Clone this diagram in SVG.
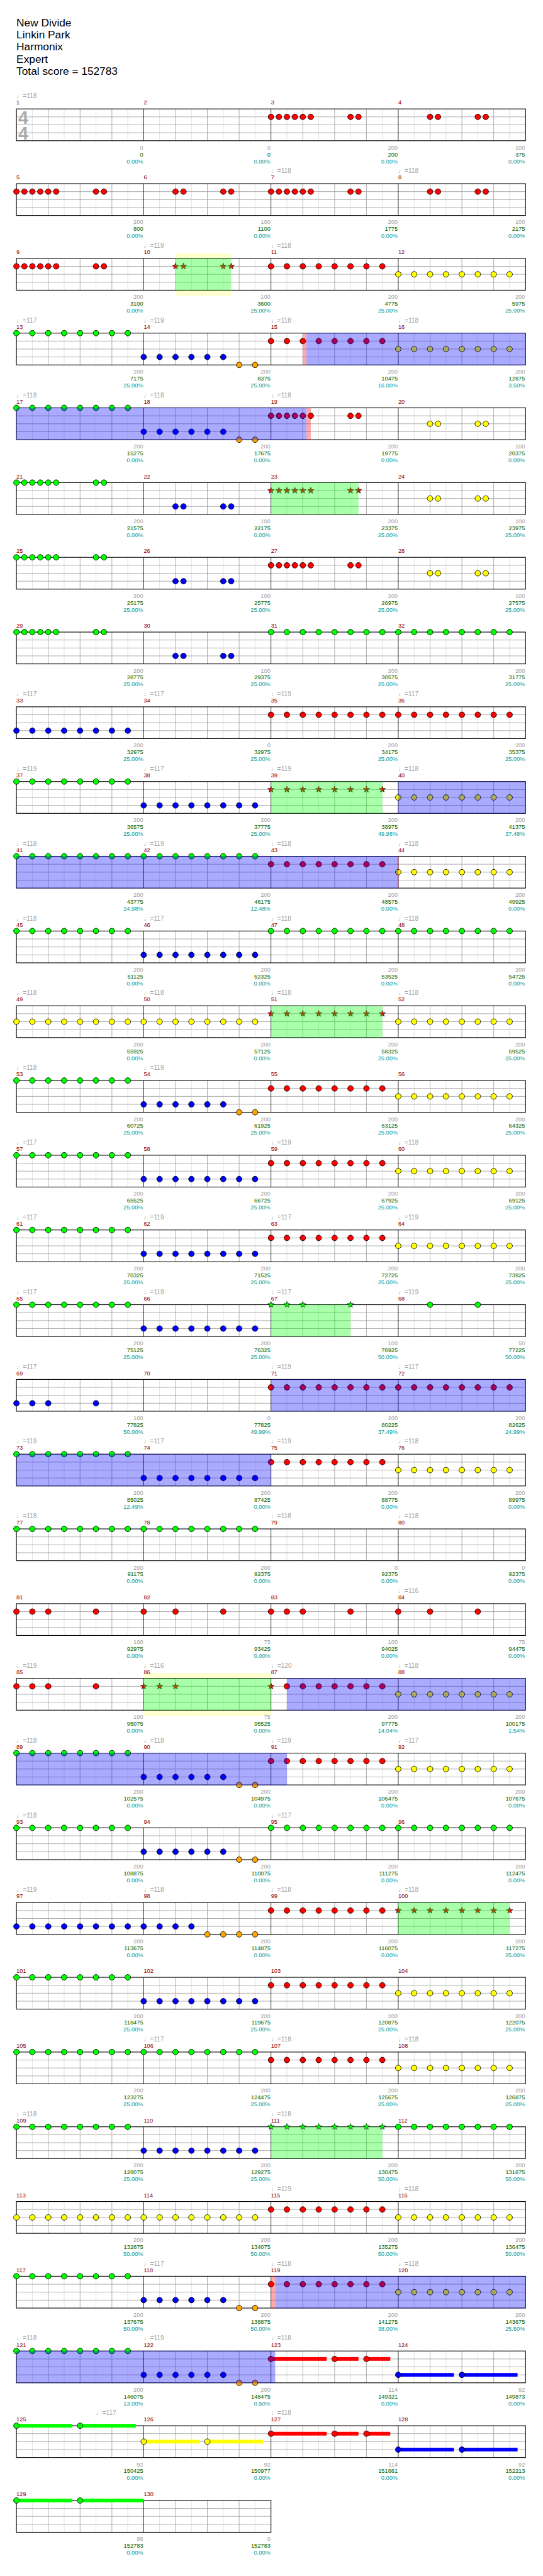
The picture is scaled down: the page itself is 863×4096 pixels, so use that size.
<svg xmlns="http://www.w3.org/2000/svg" width="863" height="4096" viewBox="0 0 863 4096">
<style>
.G{fill:#00ff00}.R{fill:#ff0000}.Y{fill:#ffff00}.B{fill:#0000ff}.O{fill:#ffa500}
.ov{fill:#0000ff;fill-opacity:.333}
.sp{fill:#00ff00;fill-opacity:.333}
.pk{fill:#ff0000;fill-opacity:.333}
.py{fill:#ffffd0}
.mn{font-family:"Liberation Sans",Arial,sans-serif;font-size:11px;fill:#8b0000}
.tp{font-family:"Liberation Sans","DejaVu Sans",sans-serif;font-size:12px;fill:#a0a0a0}
.sa,.sb,.sc{font-family:"Liberation Sans",Arial,sans-serif;font-size:11px;text-anchor:end}
.sa{fill:#a0a0a0}.sb{fill:#006400}.sc{fill:#00a0a0}
.ti{font-family:"Liberation Sans",Arial,sans-serif;font-size:20.5px;fill:#000}
.ts{font-family:"Liberation Sans",Arial,sans-serif;font-size:34px;font-weight:bold;fill:#aaa}
</style>
<defs>
<circle id="n" r="5.3" stroke="#000" stroke-width="1"/>
<path id="s" d="M0,-6.2L1.47,-2.02L5.9,-1.92L2.38,0.77L3.64,5.02L0,2.5L-3.64,5.02L-2.38,0.77L-5.9,-1.92L-1.47,-2.02Z" stroke="#000" stroke-width="0.8"/>
<g id="p2"><use href="#n"/><use href="#n" x="15"/></g>
<g id="q2"><use href="#n"/><use href="#n" x="30"/></g>
<g id="s6"><use href="#p2"/><use href="#p2" x="30"/><use href="#p2" x="60"/></g>
<g id="e6"><use href="#q2"/><use href="#q2" x="60"/><use href="#q2" x="120"/></g>
<g id="e8"><use href="#e6"/><use href="#q2" x="180"/></g>
<g id="A"><use href="#s6"/><use href="#p2" x="150"/></g>
<g id="Bp"><use href="#p2" x="60"/><use href="#p2" x="150"/></g>
<g id="sp2"><use href="#s"/><use href="#s" x="15"/></g>
<g id="sA"><use href="#sp2"/><use href="#sp2" x="30"/><use href="#sp2" x="60"/><use href="#sp2" x="150"/></g>
<g id="sq2"><use href="#s"/><use href="#s" x="30"/></g>
<g id="se8"><use href="#sq2"/><use href="#sq2" x="60"/><use href="#sq2" x="120"/><use href="#sq2" x="180"/></g>
<g id="su3"><rect y="-3.5" width="105" height="7"/><rect x="120" y="-3.5" width="45" height="7"/><rect x="180" y="-3.5" width="45" height="7"/><use href="#n"/><use href="#n" x="120"/><use href="#n" x="180"/></g>
<g id="su2"><rect y="-3.5" width="105" height="7"/><rect x="120" y="-3.5" width="105" height="7"/><use href="#n"/><use href="#n" x="120"/></g>
<g id="st4">
<rect width="960" height="60" fill="#fff"/>
<path d="M30 0V60M90 0V60M150 0V60M210 0V60M270 0V60M330 0V60M390 0V60M450 0V60M510 0V60M570 0V60M630 0V60M690 0V60M750 0V60M810 0V60M870 0V60M930 0V60" stroke="#dcdcdc" stroke-width="1"/>
<path d="M60 0V60M120 0V60M180 0V60M300 0V60M360 0V60M420 0V60M540 0V60M600 0V60M660 0V60M780 0V60M840 0V60M900 0V60M0 15H960M0 30H960M0 45H960" stroke="#a0a0a0" stroke-width="1"/>
<path d="M240 0V60M480 0V60M720 0V60" stroke="#000" stroke-width="1"/>
<rect width="960" height="60" fill="none" stroke="#000" stroke-width="1.3"/>
</g>
<g id="st2">
<rect width="480" height="60" fill="#fff"/>
<path d="M30 0V60M90 0V60M150 0V60M210 0V60M270 0V60M330 0V60M390 0V60M450 0V60" stroke="#dcdcdc" stroke-width="1"/>
<path d="M60 0V60M120 0V60M180 0V60M300 0V60M360 0V60M420 0V60M0 15H480M0 30H480M0 45H480" stroke="#a0a0a0" stroke-width="1"/>
<path d="M240 0V60" stroke="#000" stroke-width="1"/>
<rect width="480" height="60" fill="none" stroke="#000" stroke-width="1.3"/>
</g>
</defs>
<rect width="863" height="4096" fill="#fff"/>
<g transform="scale(0.8428)">
<g id="title">
<text class="ti" x="31" y="49.3">New Divide</text>
<text class="ti" x="31" y="72.3">Linkin Park</text>
<text class="ti" x="31" y="95.3">Harmonix</text>
<text class="ti" x="31" y="118.3">Expert</text>
<text class="ti" x="31" y="141.3">Total score = 152783</text>
</g>

<g id="row1" transform="translate(0,205.5)">
<use href="#st4" x="31"/>
<text class="ts" x="34.5" y="28">4</text><text class="ts" x="34.5" y="58">4</text>
<use href="#A" x="511" y="15" class="R"/><use href="#Bp" x="751" y="15" class="R"/>
<text class="mn" x="31" y="-8">1</text><text class="mn" x="271" y="-8">2</text><text class="mn" x="511" y="-8">3</text><text class="mn" x="751" y="-8">4</text>
<text class="tp" x="31" y="-20">♩=118</text>
<text class="sa" x="270" y="76.5">0</text><text class="sb" x="270" y="89.5">0</text><text class="sc" x="270" y="102.5">0.00%</text>
<text class="sa" x="510" y="76.5">0</text><text class="sb" x="510" y="89.5">0</text><text class="sc" x="510" y="102.5">0.00%</text>
<text class="sa" x="750" y="76.5">200</text><text class="sb" x="750" y="89.5">200</text><text class="sc" x="750" y="102.5">0.00%</text>
<text class="sa" x="990" y="76.5">100</text><text class="sb" x="990" y="89.5">375</text><text class="sc" x="990" y="102.5">0.00%</text>
</g>

<g id="row2" transform="translate(0,346.5)">
<use href="#st4" x="31"/>
<use href="#A" x="31" y="15" class="R"/><use href="#Bp" x="271" y="15" class="R"/><use href="#A" x="511" y="15" class="R"/><use href="#Bp" x="751" y="15" class="R"/>
<text class="mn" x="31" y="-8">5</text><text class="mn" x="271" y="-8">6</text><text class="mn" x="511" y="-8">7</text><text class="mn" x="751" y="-8">8</text>
<text class="tp" x="511" y="-20">♩=118</text><text class="tp" x="751" y="-20">♩=118</text>
<text class="sa" x="270" y="76.5">200</text><text class="sb" x="270" y="89.5">800</text><text class="sc" x="270" y="102.5">0.00%</text>
<text class="sa" x="510" y="76.5">100</text><text class="sb" x="510" y="89.5">1100</text><text class="sc" x="510" y="102.5">0.00%</text>
<text class="sa" x="750" y="76.5">200</text><text class="sb" x="750" y="89.5">1775</text><text class="sc" x="750" y="102.5">0.00%</text>
<text class="sa" x="990" y="76.5">100</text><text class="sb" x="990" y="89.5">2175</text><text class="sc" x="990" y="102.5">0.00%</text>
</g>

<g id="row3" transform="translate(0,487.5)">
<rect class="py" x="331" y="-10" width="105" height="81"/>
<use href="#st4" x="31"/>
<use href="#A" x="31" y="15" class="R"/><use href="#sp2" x="331" y="15" class="R"/><use href="#sp2" x="421" y="15" class="R"/>
<use href="#e8" x="511" y="15" class="R"/><use href="#e8" x="751" y="30" class="Y"/>
<rect class="sp" x="331" y="0" width="105" height="60"/>
<text class="mn" x="31" y="-8">9</text><text class="mn" x="271" y="-8">10</text><text class="mn" x="511" y="-8">11</text><text class="mn" x="751" y="-8">12</text>
<text class="tp" x="271" y="-20">♩=119</text><text class="tp" x="511" y="-20">♩=118</text>
<text class="sa" x="270" y="76.5">200</text><text class="sb" x="270" y="89.5">3100</text><text class="sc" x="270" y="102.5">0.00%</text>
<text class="sa" x="510" y="76.5">100</text><text class="sb" x="510" y="89.5">3600</text><text class="sc" x="510" y="102.5">25.00%</text>
<text class="sa" x="750" y="76.5">200</text><text class="sb" x="750" y="89.5">4775</text><text class="sc" x="750" y="102.5">25.00%</text>
<text class="sa" x="990" y="76.5">200</text><text class="sb" x="990" y="89.5">5975</text><text class="sc" x="990" y="102.5">25.00%</text>
</g>

<g id="row4" transform="translate(0,628.5)">
<use href="#st4" x="31"/>
<use href="#e8" x="31" y="0" class="G"/><use href="#e6" x="271" y="45" class="B"/><use href="#q2" x="451" y="60" class="O"/>
<use href="#e8" x="511" y="15" class="R"/><use href="#e8" x="751" y="30" class="Y"/>
<rect class="pk" x="571" y="-0.5" width="6.7" height="61"/><rect class="ov" x="577.7" y="-0.5" width="413.3" height="61"/>
<text class="mn" x="31" y="-8">13</text><text class="mn" x="271" y="-8">14</text><text class="mn" x="511" y="-8">15</text><text class="mn" x="751" y="-8">16</text>
<text class="tp" x="31" y="-20">♩=117</text><text class="tp" x="271" y="-20">♩=119</text><text class="tp" x="511" y="-20">♩=118</text><text class="tp" x="751" y="-20">♩=118</text>
<text class="sa" x="270" y="76.5">200</text><text class="sb" x="270" y="89.5">7175</text><text class="sc" x="270" y="102.5">25.00%</text>
<text class="sa" x="510" y="76.5">200</text><text class="sb" x="510" y="89.5">8375</text><text class="sc" x="510" y="102.5">25.00%</text>
<text class="sa" x="750" y="76.5">200</text><text class="sb" x="750" y="89.5">10475</text><text class="sc" x="750" y="102.5">16.00%</text>
<text class="sa" x="990" y="76.5">200</text><text class="sb" x="990" y="89.5">12875</text><text class="sc" x="990" y="102.5">3.50%</text>
</g>

<g id="row5" transform="translate(0,769.5)">
<use href="#st4" x="31"/>
<use href="#e8" x="31" y="0" class="G"/><use href="#e6" x="271" y="45" class="B"/><use href="#q2" x="451" y="60" class="O"/>
<use href="#s6" x="511" y="15" class="R"/><use href="#p2" x="661" y="15" class="R"/><use href="#Bp" x="751" y="30" class="Y"/>
<rect class="ov" x="31" y="-0.5" width="547" height="61"/><rect class="pk" x="578" y="-0.5" width="8" height="61"/>
<text class="mn" x="31" y="-8">17</text><text class="mn" x="271" y="-8">18</text><text class="mn" x="511" y="-8">19</text><text class="mn" x="751" y="-8">20</text>
<text class="tp" x="31" y="-20">♩=118</text><text class="tp" x="271" y="-20">♩=118</text><text class="tp" x="511" y="-20">♩=118</text>
<text class="sa" x="270" y="76.5">200</text><text class="sb" x="270" y="89.5">15275</text><text class="sc" x="270" y="102.5">0.00%</text>
<text class="sa" x="510" y="76.5">200</text><text class="sb" x="510" y="89.5">17675</text><text class="sc" x="510" y="102.5">0.00%</text>
<text class="sa" x="750" y="76.5">200</text><text class="sb" x="750" y="89.5">19775</text><text class="sc" x="750" y="102.5">0.00%</text>
<text class="sa" x="990" y="76.5">100</text><text class="sb" x="990" y="89.5">20375</text><text class="sc" x="990" y="102.5">0.00%</text>
</g>

<g id="row6" transform="translate(0,910.5)">
<use href="#st4" x="31"/>
<use href="#A" x="31" y="0" class="G"/><use href="#Bp" x="271" y="45" class="B"/><use href="#sA" x="511" y="15" class="R"/><use href="#Bp" x="751" y="30" class="Y"/>
<rect class="sp" x="511" y="0" width="165" height="60"/>
<text class="mn" x="31" y="-8">21</text><text class="mn" x="271" y="-8">22</text><text class="mn" x="511" y="-8">23</text><text class="mn" x="751" y="-8">24</text>
<text class="sa" x="270" y="76.5">200</text><text class="sb" x="270" y="89.5">21575</text><text class="sc" x="270" y="102.5">0.00%</text>
<text class="sa" x="510" y="76.5">100</text><text class="sb" x="510" y="89.5">22175</text><text class="sc" x="510" y="102.5">0.00%</text>
<text class="sa" x="750" y="76.5">200</text><text class="sb" x="750" y="89.5">23375</text><text class="sc" x="750" y="102.5">25.00%</text>
<text class="sa" x="990" y="76.5">100</text><text class="sb" x="990" y="89.5">23975</text><text class="sc" x="990" y="102.5">25.00%</text>
</g>

<g id="row7" transform="translate(0,1051.5)">
<use href="#st4" x="31"/>
<use href="#A" x="31" y="0" class="G"/><use href="#Bp" x="271" y="45" class="B"/><use href="#A" x="511" y="15" class="R"/><use href="#Bp" x="751" y="30" class="Y"/>
<text class="mn" x="31" y="-8">25</text><text class="mn" x="271" y="-8">26</text><text class="mn" x="511" y="-8">27</text><text class="mn" x="751" y="-8">28</text>
<text class="sa" x="270" y="76.5">200</text><text class="sb" x="270" y="89.5">25175</text><text class="sc" x="270" y="102.5">25.00%</text>
<text class="sa" x="510" y="76.5">100</text><text class="sb" x="510" y="89.5">25775</text><text class="sc" x="510" y="102.5">25.00%</text>
<text class="sa" x="750" y="76.5">200</text><text class="sb" x="750" y="89.5">26975</text><text class="sc" x="750" y="102.5">25.00%</text>
<text class="sa" x="990" y="76.5">100</text><text class="sb" x="990" y="89.5">27575</text><text class="sc" x="990" y="102.5">25.00%</text>
</g>

<g id="row8" transform="translate(0,1192.5)">
<use href="#st4" x="31"/>
<use href="#A" x="31" y="0" class="G"/><use href="#Bp" x="271" y="45" class="B"/><use href="#e8" x="511" y="0" class="G"/><use href="#e8" x="751" y="0" class="G"/>
<text class="mn" x="31" y="-8">29</text><text class="mn" x="271" y="-8">30</text><text class="mn" x="511" y="-8">31</text><text class="mn" x="751" y="-8">32</text>
<text class="sa" x="270" y="76.5">200</text><text class="sb" x="270" y="89.5">28775</text><text class="sc" x="270" y="102.5">25.00%</text>
<text class="sa" x="510" y="76.5">100</text><text class="sb" x="510" y="89.5">29375</text><text class="sc" x="510" y="102.5">25.00%</text>
<text class="sa" x="750" y="76.5">200</text><text class="sb" x="750" y="89.5">30575</text><text class="sc" x="750" y="102.5">25.00%</text>
<text class="sa" x="990" y="76.5">200</text><text class="sb" x="990" y="89.5">31775</text><text class="sc" x="990" y="102.5">25.00%</text>
</g>

<g id="row9" transform="translate(0,1333.5)">
<use href="#st4" x="31"/>
<use href="#e8" x="31" y="45" class="B"/><use href="#e8" x="511" y="15" class="R"/><use href="#e8" x="751" y="15" class="R"/>
<text class="mn" x="31" y="-8">33</text><text class="mn" x="271" y="-8">34</text><text class="mn" x="511" y="-8">35</text><text class="mn" x="751" y="-8">36</text>
<text class="tp" x="31" y="-20">♩=117</text><text class="tp" x="271" y="-20">♩=117</text><text class="tp" x="511" y="-20">♩=119</text><text class="tp" x="751" y="-20">♩=117</text>
<text class="sa" x="270" y="76.5">200</text><text class="sb" x="270" y="89.5">32975</text><text class="sc" x="270" y="102.5">25.00%</text>
<text class="sa" x="510" y="76.5">0</text><text class="sb" x="510" y="89.5">32975</text><text class="sc" x="510" y="102.5">25.00%</text>
<text class="sa" x="750" y="76.5">200</text><text class="sb" x="750" y="89.5">34175</text><text class="sc" x="750" y="102.5">25.00%</text>
<text class="sa" x="990" y="76.5">200</text><text class="sb" x="990" y="89.5">35375</text><text class="sc" x="990" y="102.5">25.00%</text>
</g>

<g id="row10" transform="translate(0,1474.5)">
<use href="#st4" x="31"/>
<use href="#e8" x="31" y="0" class="G"/><use href="#e8" x="271" y="45" class="B"/><use href="#se8" x="511" y="15" class="R"/><use href="#e8" x="751" y="30" class="Y"/>
<rect class="sp" x="511" y="0" width="210" height="60"/><rect class="ov" x="751" y="-0.5" width="240" height="61"/>
<text class="mn" x="31" y="-8">37</text><text class="mn" x="271" y="-8">38</text><text class="mn" x="511" y="-8">39</text><text class="mn" x="751" y="-8">40</text>
<text class="tp" x="31" y="-20">♩=119</text><text class="tp" x="271" y="-20">♩=117</text><text class="tp" x="511" y="-20">♩=119</text><text class="tp" x="751" y="-20">♩=118</text>
<text class="sa" x="270" y="76.5">200</text><text class="sb" x="270" y="89.5">36575</text><text class="sc" x="270" y="102.5">25.00%</text>
<text class="sa" x="510" y="76.5">200</text><text class="sb" x="510" y="89.5">37775</text><text class="sc" x="510" y="102.5">25.00%</text>
<text class="sa" x="750" y="76.5">200</text><text class="sb" x="750" y="89.5">38975</text><text class="sc" x="750" y="102.5">49.98%</text>
<text class="sa" x="990" y="76.5">200</text><text class="sb" x="990" y="89.5">41375</text><text class="sc" x="990" y="102.5">37.48%</text>
</g>

<g id="row11" transform="translate(0,1615.5)">
<use href="#st4" x="31"/>
<use href="#e8" x="31" y="0" class="G"/><use href="#e8" x="271" y="0" class="G"/><use href="#e8" x="511" y="15" class="R"/><use href="#e8" x="751" y="30" class="Y"/>
<rect class="ov" x="31" y="-0.5" width="720" height="61"/><rect class="pk" x="750.5" y="-0.5" width="1.2" height="61"/>
<text class="mn" x="31" y="-8">41</text><text class="mn" x="271" y="-8">42</text><text class="mn" x="511" y="-8">43</text><text class="mn" x="751" y="-8">44</text>
<text class="tp" x="31" y="-20">♩=118</text><text class="tp" x="271" y="-20">♩=119</text><text class="tp" x="511" y="-20">♩=118</text><text class="tp" x="751" y="-20">♩=118</text>
<text class="sa" x="270" y="76.5">200</text><text class="sb" x="270" y="89.5">43775</text><text class="sc" x="270" y="102.5">24.98%</text>
<text class="sa" x="510" y="76.5">200</text><text class="sb" x="510" y="89.5">46175</text><text class="sc" x="510" y="102.5">12.48%</text>
<text class="sa" x="750" y="76.5">200</text><text class="sb" x="750" y="89.5">48575</text><text class="sc" x="750" y="102.5">0.00%</text>
<text class="sa" x="990" y="76.5">200</text><text class="sb" x="990" y="89.5">49925</text><text class="sc" x="990" y="102.5">0.00%</text>
</g>

<g id="row12" transform="translate(0,1756.5)">
<use href="#st4" x="31"/>
<use href="#e8" x="31" y="0" class="G"/><use href="#e8" x="271" y="45" class="B"/><use href="#e8" x="511" y="0" class="G"/><use href="#e8" x="751" y="0" class="G"/>
<text class="mn" x="31" y="-8">45</text><text class="mn" x="271" y="-8">46</text><text class="mn" x="511" y="-8">47</text><text class="mn" x="751" y="-8">48</text>
<text class="tp" x="31" y="-20">♩=118</text><text class="tp" x="271" y="-20">♩=117</text><text class="tp" x="511" y="-20">♩=118</text><text class="tp" x="751" y="-20">♩=118</text>
<text class="sa" x="270" y="76.5">200</text><text class="sb" x="270" y="89.5">51125</text><text class="sc" x="270" y="102.5">0.00%</text>
<text class="sa" x="510" y="76.5">200</text><text class="sb" x="510" y="89.5">52325</text><text class="sc" x="510" y="102.5">0.00%</text>
<text class="sa" x="750" y="76.5">200</text><text class="sb" x="750" y="89.5">53525</text><text class="sc" x="750" y="102.5">0.00%</text>
<text class="sa" x="990" y="76.5">200</text><text class="sb" x="990" y="89.5">54725</text><text class="sc" x="990" y="102.5">0.00%</text>
</g>

<g id="row13" transform="translate(0,1897.5)">
<use href="#st4" x="31"/>
<use href="#e8" x="31" y="30" class="Y"/><use href="#e8" x="271" y="30" class="Y"/><use href="#se8" x="511" y="15" class="R"/><use href="#e8" x="751" y="30" class="Y"/>
<rect class="sp" x="511" y="0" width="210" height="60"/>
<text class="mn" x="31" y="-8">49</text><text class="mn" x="271" y="-8">50</text><text class="mn" x="511" y="-8">51</text><text class="mn" x="751" y="-8">52</text>
<text class="tp" x="31" y="-20">♩=118</text><text class="tp" x="271" y="-20">♩=118</text><text class="tp" x="511" y="-20">♩=118</text><text class="tp" x="751" y="-20">♩=118</text>
<text class="sa" x="270" y="76.5">200</text><text class="sb" x="270" y="89.5">55925</text><text class="sc" x="270" y="102.5">0.00%</text>
<text class="sa" x="510" y="76.5">200</text><text class="sb" x="510" y="89.5">57125</text><text class="sc" x="510" y="102.5">0.00%</text>
<text class="sa" x="750" y="76.5">200</text><text class="sb" x="750" y="89.5">58325</text><text class="sc" x="750" y="102.5">25.00%</text>
<text class="sa" x="990" y="76.5">200</text><text class="sb" x="990" y="89.5">59525</text><text class="sc" x="990" y="102.5">25.00%</text>
</g>

<g id="row14" transform="translate(0,2038.5)">
<use href="#st4" x="31"/>
<use href="#e8" x="31" y="0" class="G"/><use href="#e6" x="271" y="45" class="B"/><use href="#q2" x="451" y="60" class="O"/><use href="#e8" x="511" y="15" class="R"/><use href="#e8" x="751" y="30" class="Y"/>
<text class="mn" x="31" y="-8">53</text><text class="mn" x="271" y="-8">54</text><text class="mn" x="511" y="-8">55</text><text class="mn" x="751" y="-8">56</text>
<text class="tp" x="31" y="-20">♩=118</text><text class="tp" x="271" y="-20">♩=119</text>
<text class="sa" x="270" y="76.5">200</text><text class="sb" x="270" y="89.5">60725</text><text class="sc" x="270" y="102.5">25.00%</text>
<text class="sa" x="510" y="76.5">200</text><text class="sb" x="510" y="89.5">61925</text><text class="sc" x="510" y="102.5">25.00%</text>
<text class="sa" x="750" y="76.5">200</text><text class="sb" x="750" y="89.5">63125</text><text class="sc" x="750" y="102.5">25.00%</text>
<text class="sa" x="990" y="76.5">200</text><text class="sb" x="990" y="89.5">64325</text><text class="sc" x="990" y="102.5">25.00%</text>
</g>

<g id="row15" transform="translate(0,2179.5)">
<use href="#st4" x="31"/>
<use href="#e8" x="31" y="0" class="G"/><use href="#e8" x="271" y="45" class="B"/><use href="#e8" x="511" y="15" class="R"/><use href="#e8" x="751" y="30" class="Y"/>
<text class="mn" x="31" y="-8">57</text><text class="mn" x="271" y="-8">58</text><text class="mn" x="511" y="-8">59</text><text class="mn" x="751" y="-8">60</text>
<text class="tp" x="31" y="-20">♩=117</text><text class="tp" x="511" y="-20">♩=119</text><text class="tp" x="751" y="-20">♩=118</text>
<text class="sa" x="270" y="76.5">200</text><text class="sb" x="270" y="89.5">65525</text><text class="sc" x="270" y="102.5">25.00%</text>
<text class="sa" x="510" y="76.5">200</text><text class="sb" x="510" y="89.5">66725</text><text class="sc" x="510" y="102.5">25.00%</text>
<text class="sa" x="750" y="76.5">200</text><text class="sb" x="750" y="89.5">67925</text><text class="sc" x="750" y="102.5">25.00%</text>
<text class="sa" x="990" y="76.5">200</text><text class="sb" x="990" y="89.5">69125</text><text class="sc" x="990" y="102.5">25.00%</text>
</g>

<g id="row16" transform="translate(0,2320.5)">
<use href="#st4" x="31"/>
<use href="#e8" x="31" y="0" class="G"/><use href="#e8" x="271" y="45" class="B"/><use href="#e8" x="511" y="15" class="R"/><use href="#e8" x="751" y="30" class="Y"/>
<text class="mn" x="31" y="-8">61</text><text class="mn" x="271" y="-8">62</text><text class="mn" x="511" y="-8">63</text><text class="mn" x="751" y="-8">64</text>
<text class="tp" x="31" y="-20">♩=117</text><text class="tp" x="271" y="-20">♩=119</text><text class="tp" x="511" y="-20">♩=117</text><text class="tp" x="751" y="-20">♩=119</text>
<text class="sa" x="270" y="76.5">200</text><text class="sb" x="270" y="89.5">70325</text><text class="sc" x="270" y="102.5">25.00%</text>
<text class="sa" x="510" y="76.5">200</text><text class="sb" x="510" y="89.5">71525</text><text class="sc" x="510" y="102.5">25.00%</text>
<text class="sa" x="750" y="76.5">200</text><text class="sb" x="750" y="89.5">72725</text><text class="sc" x="750" y="102.5">25.00%</text>
<text class="sa" x="990" y="76.5">200</text><text class="sb" x="990" y="89.5">73925</text><text class="sc" x="990" y="102.5">25.00%</text>
</g>

<g id="row17" transform="translate(0,2461.5)">
<use href="#st4" x="31"/>
<use href="#e8" x="31" y="0" class="G"/><use href="#e8" x="271" y="45" class="B"/>
<use href="#sq2" x="511" y="0" class="G"/><use href="#s" x="571" y="0" class="G"/><use href="#s" x="661" y="0" class="G"/>
<use href="#n" x="811" y="0" class="G"/><use href="#n" x="901" y="0" class="G"/>
<rect class="sp" x="511" y="0" width="150" height="60"/>
<text class="mn" x="31" y="-8">65</text><text class="mn" x="271" y="-8">66</text><text class="mn" x="511" y="-8">67</text><text class="mn" x="751" y="-8">68</text>
<text class="tp" x="31" y="-20">♩=117</text><text class="tp" x="271" y="-20">♩=119</text><text class="tp" x="511" y="-20">♩=117</text><text class="tp" x="751" y="-20">♩=119</text>
<text class="sa" x="270" y="76.5">200</text><text class="sb" x="270" y="89.5">75125</text><text class="sc" x="270" y="102.5">25.00%</text>
<text class="sa" x="510" y="76.5">200</text><text class="sb" x="510" y="89.5">76325</text><text class="sc" x="510" y="102.5">25.00%</text>
<text class="sa" x="750" y="76.5">100</text><text class="sb" x="750" y="89.5">76925</text><text class="sc" x="750" y="102.5">50.00%</text>
<text class="sa" x="990" y="76.5">50</text><text class="sb" x="990" y="89.5">77225</text><text class="sc" x="990" y="102.5">50.00%</text>
</g>

<g id="row18" transform="translate(0,2602.5)">
<use href="#st4" x="31"/>
<use href="#q2" x="31" y="45" class="B"/><use href="#n" x="91" y="45" class="B"/><use href="#n" x="181" y="45" class="B"/>
<use href="#e8" x="511" y="15" class="R"/><use href="#e8" x="751" y="15" class="R"/>
<rect class="ov" x="511" y="-0.5" width="480" height="61"/>
<text class="mn" x="31" y="-8">69</text><text class="mn" x="271" y="-8">70</text><text class="mn" x="511" y="-8">71</text><text class="mn" x="751" y="-8">72</text>
<text class="tp" x="31" y="-20">♩=117</text><text class="tp" x="511" y="-20">♩=119</text><text class="tp" x="751" y="-20">♩=117</text>
<text class="sa" x="270" y="76.5">100</text><text class="sb" x="270" y="89.5">77825</text><text class="sc" x="270" y="102.5">50.00%</text>
<text class="sa" x="510" y="76.5">0</text><text class="sb" x="510" y="89.5">77825</text><text class="sc" x="510" y="102.5">49.99%</text>
<text class="sa" x="750" y="76.5">200</text><text class="sb" x="750" y="89.5">80225</text><text class="sc" x="750" y="102.5">37.49%</text>
<text class="sa" x="990" y="76.5">200</text><text class="sb" x="990" y="89.5">82625</text><text class="sc" x="990" y="102.5">24.99%</text>
</g>

<g id="row19" transform="translate(0,2743.5)">
<use href="#st4" x="31"/>
<use href="#e8" x="31" y="0" class="G"/><use href="#e8" x="271" y="45" class="B"/><use href="#e8" x="511" y="15" class="R"/><use href="#e8" x="751" y="30" class="Y"/>
<rect class="ov" x="31" y="-0.5" width="480" height="61"/>
<text class="mn" x="31" y="-8">73</text><text class="mn" x="271" y="-8">74</text><text class="mn" x="511" y="-8">75</text><text class="mn" x="751" y="-8">76</text>
<text class="tp" x="31" y="-20">♩=119</text><text class="tp" x="271" y="-20">♩=117</text><text class="tp" x="511" y="-20">♩=119</text><text class="tp" x="751" y="-20">♩=118</text>
<text class="sa" x="270" y="76.5">200</text><text class="sb" x="270" y="89.5">85025</text><text class="sc" x="270" y="102.5">12.49%</text>
<text class="sa" x="510" y="76.5">200</text><text class="sb" x="510" y="89.5">87425</text><text class="sc" x="510" y="102.5">0.00%</text>
<text class="sa" x="750" y="76.5">200</text><text class="sb" x="750" y="89.5">88775</text><text class="sc" x="750" y="102.5">0.00%</text>
<text class="sa" x="990" y="76.5">200</text><text class="sb" x="990" y="89.5">89975</text><text class="sc" x="990" y="102.5">0.00%</text>
</g>

<g id="row20" transform="translate(0,2884.5)">
<use href="#st4" x="31"/>
<use href="#e8" x="31" y="0" class="G"/><use href="#e8" x="271" y="0" class="G"/>
<text class="mn" x="31" y="-8">77</text><text class="mn" x="271" y="-8">78</text><text class="mn" x="511" y="-8">79</text><text class="mn" x="751" y="-8">80</text>
<text class="tp" x="31" y="-20">♩=118</text><text class="tp" x="511" y="-20">♩=118</text><text class="tp" x="751" y="-20">♩=118</text>
<text class="sa" x="270" y="76.5">200</text><text class="sb" x="270" y="89.5">91175</text><text class="sc" x="270" y="102.5">0.00%</text>
<text class="sa" x="510" y="76.5">200</text><text class="sb" x="510" y="89.5">92375</text><text class="sc" x="510" y="102.5">0.00%</text>
<text class="sa" x="750" y="76.5">0</text><text class="sb" x="750" y="89.5">92375</text><text class="sc" x="750" y="102.5">0.00%</text>
<text class="sa" x="990" y="76.5">0</text><text class="sb" x="990" y="89.5">92375</text><text class="sc" x="990" y="102.5">0.00%</text>
</g>

<g id="row21" transform="translate(0,3025.5)">
<use href="#st4" x="31"/>
<g class="R"><use href="#q2" x="31" y="15"/><use href="#n" x="91" y="15"/><use href="#n" x="181" y="15"/>
<use href="#n" x="271" y="15"/><use href="#n" x="331" y="15"/><use href="#n" x="421" y="15"/>
<use href="#q2" x="511" y="15"/><use href="#n" x="571" y="15"/><use href="#n" x="661" y="15"/>
<use href="#n" x="751" y="15"/><use href="#n" x="811" y="15"/><use href="#n" x="901" y="15"/></g>
<text class="mn" x="31" y="-8">81</text><text class="mn" x="271" y="-8">82</text><text class="mn" x="511" y="-8">83</text><text class="mn" x="751" y="-8">84</text>
<text class="tp" x="751" y="-20">♩=116</text>
<text class="sa" x="270" y="76.5">100</text><text class="sb" x="270" y="89.5">92975</text><text class="sc" x="270" y="102.5">0.00%</text>
<text class="sa" x="510" y="76.5">75</text><text class="sb" x="510" y="89.5">93425</text><text class="sc" x="510" y="102.5">0.00%</text>
<text class="sa" x="750" y="76.5">100</text><text class="sb" x="750" y="89.5">94025</text><text class="sc" x="750" y="102.5">0.00%</text>
<text class="sa" x="990" y="76.5">75</text><text class="sb" x="990" y="89.5">94475</text><text class="sc" x="990" y="102.5">0.00%</text>
</g>

<g id="row22" transform="translate(0,3166.5)">
<rect class="py" x="271" y="-10" width="240" height="81"/>
<use href="#st4" x="31"/>
<g class="R"><use href="#q2" x="31" y="15"/><use href="#n" x="91" y="15"/><use href="#n" x="181" y="15"/>
<use href="#sq2" x="271" y="15"/><use href="#s" x="331" y="15"/><use href="#s" x="511" y="15"/>
<use href="#e6" x="541" y="15"/><use href="#n" x="721" y="15"/></g>
<use href="#e8" x="751" y="30" class="Y"/>
<rect class="sp" x="271" y="0" width="240" height="60"/><rect class="ov" x="541" y="-0.5" width="450" height="61"/>
<text class="mn" x="31" y="-8">85</text><text class="mn" x="271" y="-8">86</text><text class="mn" x="511" y="-8">87</text><text class="mn" x="751" y="-8">88</text>
<text class="tp" x="31" y="-20">♩=119</text><text class="tp" x="271" y="-20">♩=116</text><text class="tp" x="511" y="-20">♩=120</text><text class="tp" x="751" y="-20">♩=118</text>
<text class="sa" x="270" y="76.5">100</text><text class="sb" x="270" y="89.5">95075</text><text class="sc" x="270" y="102.5">0.00%</text>
<text class="sa" x="510" y="76.5">75</text><text class="sb" x="510" y="89.5">95525</text><text class="sc" x="510" y="102.5">0.00%</text>
<text class="sa" x="750" y="76.5">200</text><text class="sb" x="750" y="89.5">97775</text><text class="sc" x="750" y="102.5">14.04%</text>
<text class="sa" x="990" y="76.5">200</text><text class="sb" x="990" y="89.5">100175</text><text class="sc" x="990" y="102.5">1.54%</text>
</g>

<g id="row23" transform="translate(0,3307.5)">
<use href="#st4" x="31"/>
<use href="#e8" x="31" y="0" class="G"/><use href="#e6" x="271" y="45" class="B"/><use href="#q2" x="451" y="60" class="O"/><use href="#e8" x="511" y="15" class="R"/><use href="#e8" x="751" y="30" class="Y"/>
<rect class="ov" x="31" y="-0.5" width="510" height="61"/>
<text class="mn" x="31" y="-8">89</text><text class="mn" x="271" y="-8">90</text><text class="mn" x="511" y="-8">91</text><text class="mn" x="751" y="-8">92</text>
<text class="tp" x="31" y="-20">♩=118</text><text class="tp" x="271" y="-20">♩=118</text><text class="tp" x="511" y="-20">♩=119</text><text class="tp" x="751" y="-20">♩=117</text>
<text class="sa" x="270" y="76.5">200</text><text class="sb" x="270" y="89.5">102575</text><text class="sc" x="270" y="102.5">0.00%</text>
<text class="sa" x="510" y="76.5">200</text><text class="sb" x="510" y="89.5">104975</text><text class="sc" x="510" y="102.5">0.00%</text>
<text class="sa" x="750" y="76.5">200</text><text class="sb" x="750" y="89.5">106475</text><text class="sc" x="750" y="102.5">0.00%</text>
<text class="sa" x="990" y="76.5">200</text><text class="sb" x="990" y="89.5">107675</text><text class="sc" x="990" y="102.5">0.00%</text>
</g>

<g id="row24" transform="translate(0,3448.5)">
<use href="#st4" x="31"/>
<use href="#e8" x="31" y="0" class="G"/><use href="#e6" x="271" y="45" class="B"/><use href="#q2" x="451" y="60" class="O"/><use href="#e8" x="511" y="0" class="G"/><use href="#e8" x="751" y="0" class="G"/>
<text class="mn" x="31" y="-8">93</text><text class="mn" x="271" y="-8">94</text><text class="mn" x="511" y="-8">95</text><text class="mn" x="751" y="-8">96</text>
<text class="tp" x="31" y="-20">♩=118</text><text class="tp" x="511" y="-20">♩=117</text>
<text class="sa" x="270" y="76.5">200</text><text class="sb" x="270" y="89.5">108875</text><text class="sc" x="270" y="102.5">0.00%</text>
<text class="sa" x="510" y="76.5">200</text><text class="sb" x="510" y="89.5">110075</text><text class="sc" x="510" y="102.5">0.00%</text>
<text class="sa" x="750" y="76.5">200</text><text class="sb" x="750" y="89.5">111275</text><text class="sc" x="750" y="102.5">0.00%</text>
<text class="sa" x="990" y="76.5">200</text><text class="sb" x="990" y="89.5">112475</text><text class="sc" x="990" y="102.5">0.00%</text>
</g>

<g id="row25" transform="translate(0,3589.5)">
<use href="#st4" x="31"/>
<use href="#e8" x="31" y="45" class="B"/><use href="#q2" x="271" y="45" class="B"/><use href="#q2" x="331" y="45" class="B"/>
<use href="#q2" x="391" y="60" class="O"/><use href="#q2" x="451" y="60" class="O"/>
<use href="#e8" x="511" y="15" class="R"/><use href="#se8" x="751" y="15" class="R"/>
<rect class="sp" x="751" y="0" width="210" height="60"/>
<text class="mn" x="31" y="-8">97</text><text class="mn" x="271" y="-8">98</text><text class="mn" x="511" y="-8">99</text><text class="mn" x="751" y="-8">100</text>
<text class="tp" x="31" y="-20">♩=119</text><text class="tp" x="271" y="-20">♩=118</text><text class="tp" x="511" y="-20">♩=118</text><text class="tp" x="751" y="-20">♩=118</text>
<text class="sa" x="270" y="76.5">200</text><text class="sb" x="270" y="89.5">113675</text><text class="sc" x="270" y="102.5">0.00%</text>
<text class="sa" x="510" y="76.5">200</text><text class="sb" x="510" y="89.5">114875</text><text class="sc" x="510" y="102.5">0.00%</text>
<text class="sa" x="750" y="76.5">200</text><text class="sb" x="750" y="89.5">116075</text><text class="sc" x="750" y="102.5">0.00%</text>
<text class="sa" x="990" y="76.5">200</text><text class="sb" x="990" y="89.5">117275</text><text class="sc" x="990" y="102.5">25.00%</text>
</g>

<g id="row26" transform="translate(0,3730.5)">
<use href="#st4" x="31"/>
<use href="#e8" x="31" y="0" class="G"/><use href="#e8" x="271" y="45" class="B"/><use href="#e8" x="511" y="15" class="R"/><use href="#e8" x="751" y="30" class="Y"/>
<text class="mn" x="31" y="-8">101</text><text class="mn" x="271" y="-8">102</text><text class="mn" x="511" y="-8">103</text><text class="mn" x="751" y="-8">104</text>
<text class="sa" x="270" y="76.5">200</text><text class="sb" x="270" y="89.5">118475</text><text class="sc" x="270" y="102.5">25.00%</text>
<text class="sa" x="510" y="76.5">200</text><text class="sb" x="510" y="89.5">119675</text><text class="sc" x="510" y="102.5">25.00%</text>
<text class="sa" x="750" y="76.5">200</text><text class="sb" x="750" y="89.5">120875</text><text class="sc" x="750" y="102.5">25.00%</text>
<text class="sa" x="990" y="76.5">200</text><text class="sb" x="990" y="89.5">122075</text><text class="sc" x="990" y="102.5">25.00%</text>
</g>

<g id="row27" transform="translate(0,3871.5)">
<use href="#st4" x="31"/>
<use href="#e8" x="31" y="0" class="G"/><use href="#e8" x="271" y="0" class="G"/><use href="#e8" x="511" y="15" class="R"/><use href="#e8" x="751" y="30" class="Y"/>
<text class="mn" x="31" y="-8">105</text><text class="mn" x="271" y="-8">106</text><text class="mn" x="511" y="-8">107</text><text class="mn" x="751" y="-8">108</text>
<text class="tp" x="271" y="-20">♩=117</text><text class="tp" x="511" y="-20">♩=118</text><text class="tp" x="751" y="-20">♩=118</text>
<text class="sa" x="270" y="76.5">200</text><text class="sb" x="270" y="89.5">123275</text><text class="sc" x="270" y="102.5">25.00%</text>
<text class="sa" x="510" y="76.5">200</text><text class="sb" x="510" y="89.5">124475</text><text class="sc" x="510" y="102.5">25.00%</text>
<text class="sa" x="750" y="76.5">200</text><text class="sb" x="750" y="89.5">125675</text><text class="sc" x="750" y="102.5">25.00%</text>
<text class="sa" x="990" y="76.5">200</text><text class="sb" x="990" y="89.5">126875</text><text class="sc" x="990" y="102.5">25.00%</text>
</g>

<g id="row28" transform="translate(0,4012.5)">
<use href="#st4" x="31"/>
<use href="#e8" x="31" y="0" class="G"/><use href="#e8" x="271" y="45" class="B"/><use href="#se8" x="511" y="0" class="G"/><use href="#e8" x="751" y="0" class="G"/>
<rect class="sp" x="511" y="0" width="210" height="60"/>
<text class="mn" x="31" y="-8">109</text><text class="mn" x="271" y="-8">110</text><text class="mn" x="511" y="-8">111</text><text class="mn" x="751" y="-8">112</text>
<text class="tp" x="31" y="-20">♩=118</text><text class="tp" x="511" y="-20">♩=118</text>
<text class="sa" x="270" y="76.5">200</text><text class="sb" x="270" y="89.5">128075</text><text class="sc" x="270" y="102.5">25.00%</text>
<text class="sa" x="510" y="76.5">200</text><text class="sb" x="510" y="89.5">129275</text><text class="sc" x="510" y="102.5">25.00%</text>
<text class="sa" x="750" y="76.5">200</text><text class="sb" x="750" y="89.5">130475</text><text class="sc" x="750" y="102.5">50.00%</text>
<text class="sa" x="990" y="76.5">200</text><text class="sb" x="990" y="89.5">131675</text><text class="sc" x="990" y="102.5">50.00%</text>
</g>

<g id="row29" transform="translate(0,4153.5)">
<use href="#st4" x="31"/>
<use href="#e8" x="31" y="30" class="Y"/><use href="#e8" x="271" y="30" class="Y"/><use href="#e8" x="511" y="15" class="R"/><use href="#e8" x="751" y="30" class="Y"/>
<text class="mn" x="31" y="-8">113</text><text class="mn" x="271" y="-8">114</text><text class="mn" x="511" y="-8">115</text><text class="mn" x="751" y="-8">116</text>
<text class="tp" x="511" y="-20">♩=119</text><text class="tp" x="751" y="-20">♩=118</text>
<text class="sa" x="270" y="76.5">200</text><text class="sb" x="270" y="89.5">132875</text><text class="sc" x="270" y="102.5">50.00%</text>
<text class="sa" x="510" y="76.5">200</text><text class="sb" x="510" y="89.5">134075</text><text class="sc" x="510" y="102.5">50.00%</text>
<text class="sa" x="750" y="76.5">200</text><text class="sb" x="750" y="89.5">135275</text><text class="sc" x="750" y="102.5">50.00%</text>
<text class="sa" x="990" y="76.5">200</text><text class="sb" x="990" y="89.5">136475</text><text class="sc" x="990" y="102.5">50.00%</text>
</g>

<g id="row30" transform="translate(0,4294.5)">
<use href="#st4" x="31"/>
<use href="#e8" x="31" y="0" class="G"/><use href="#e6" x="271" y="45" class="B"/><use href="#q2" x="451" y="60" class="O"/><use href="#e8" x="511" y="15" class="R"/><use href="#e8" x="751" y="30" class="Y"/>
<rect class="pk" x="511" y="-0.5" width="8" height="61"/><rect class="ov" x="519" y="-0.5" width="472" height="61"/>
<text class="mn" x="31" y="-8">117</text><text class="mn" x="271" y="-8">118</text><text class="mn" x="511" y="-8">119</text><text class="mn" x="751" y="-8">120</text>
<text class="tp" x="271" y="-20">♩=117</text><text class="tp" x="511" y="-20">♩=118</text><text class="tp" x="751" y="-20">♩=118</text>
<text class="sa" x="270" y="76.5">200</text><text class="sb" x="270" y="89.5">137675</text><text class="sc" x="270" y="102.5">50.00%</text>
<text class="sa" x="510" y="76.5">200</text><text class="sb" x="510" y="89.5">138875</text><text class="sc" x="510" y="102.5">50.00%</text>
<text class="sa" x="750" y="76.5">200</text><text class="sb" x="750" y="89.5">141275</text><text class="sc" x="750" y="102.5">38.00%</text>
<text class="sa" x="990" y="76.5">200</text><text class="sb" x="990" y="89.5">143675</text><text class="sc" x="990" y="102.5">25.50%</text>
</g>

<g id="row31" transform="translate(0,4435.5)">
<use href="#st4" x="31"/>
<use href="#e8" x="31" y="0" class="G"/><use href="#e6" x="271" y="45" class="B"/><use href="#q2" x="451" y="60" class="O"/>
<use href="#su3" x="511" y="15" class="R"/><use href="#su2" x="751" y="45" class="B"/>
<rect class="ov" x="31" y="-0.5" width="488" height="61"/>
<text class="mn" x="31" y="-8">121</text><text class="mn" x="271" y="-8">122</text><text class="mn" x="511" y="-8">123</text><text class="mn" x="751" y="-8">124</text>
<text class="tp" x="31" y="-20">♩=118</text><text class="tp" x="271" y="-20">♩=119</text><text class="tp" x="511" y="-20">♩=118</text>
<text class="sa" x="270" y="76.5">200</text><text class="sb" x="270" y="89.5">146075</text><text class="sc" x="270" y="102.5">13.00%</text>
<text class="sa" x="510" y="76.5">200</text><text class="sb" x="510" y="89.5">148475</text><text class="sc" x="510" y="102.5">0.50%</text>
<text class="sa" x="750" y="76.5">114</text><text class="sb" x="750" y="89.5">149321</text><text class="sc" x="750" y="102.5">0.00%</text>
<text class="sa" x="990" y="76.5">92</text><text class="sb" x="990" y="89.5">149873</text><text class="sc" x="990" y="102.5">0.00%</text>
</g>

<g id="row32" transform="translate(0,4576.5)">
<use href="#st4" x="31"/>
<use href="#su2" x="31" y="0" class="G"/><use href="#su2" x="271" y="30" class="Y"/>
<use href="#su3" x="511" y="15" class="R"/><use href="#su2" x="751" y="45" class="B"/>
<text class="mn" x="31" y="-8">125</text><text class="mn" x="271" y="-8">126</text><text class="mn" x="511" y="-8">127</text><text class="mn" x="751" y="-8">128</text>
<text class="tp" x="181" y="-20">♩=117</text><text class="tp" x="511" y="-20">♩=118</text>
<text class="sa" x="270" y="76.5">92</text><text class="sb" x="270" y="89.5">150425</text><text class="sc" x="270" y="102.5">0.00%</text>
<text class="sa" x="510" y="76.5">92</text><text class="sb" x="510" y="89.5">150977</text><text class="sc" x="510" y="102.5">0.00%</text>
<text class="sa" x="750" y="76.5">114</text><text class="sb" x="750" y="89.5">151661</text><text class="sc" x="750" y="102.5">0.00%</text>
<text class="sa" x="990" y="76.5">92</text><text class="sb" x="990" y="89.5">152213</text><text class="sc" x="990" y="102.5">0.00%</text>
</g>

<g id="row33" transform="translate(0,4717.5)">
<use href="#st2" x="31"/>
<g class="G"><rect x="31" y="-3.5" width="105" height="7"/><rect x="151" y="-3.5" width="120" height="7"/><use href="#n" x="31" y="0"/><use href="#n" x="151" y="0"/></g>
<text class="mn" x="31" y="-8">129</text><text class="mn" x="271" y="-8">130</text>
<text class="sa" x="270" y="76.5">95</text><text class="sb" x="270" y="89.5">152783</text><text class="sc" x="270" y="102.5">0.00%</text>
<text class="sa" x="510" y="76.5">0</text><text class="sb" x="510" y="89.5">152783</text><text class="sc" x="510" y="102.5">0.00%</text>
</g>
</g>
</svg>
